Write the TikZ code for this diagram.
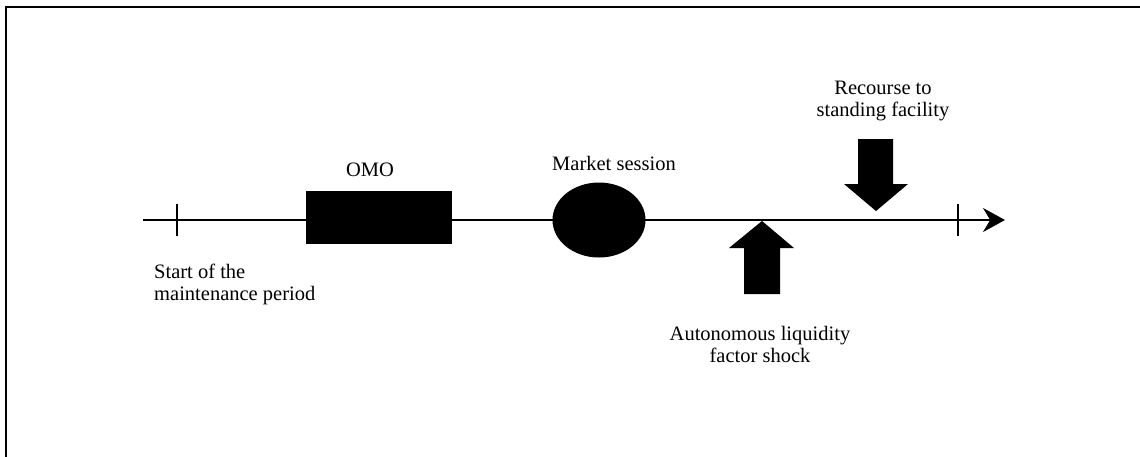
\documentclass[tikz,border=0pt]{standalone}
\usepackage{fontspec}
\setmainfont{Liberation Serif}
\usetikzlibrary{arrows.meta}

\tikzset{
  lbl/.style={inner sep=0pt, font=\fontsize{20.5}{22}\selectfont},
  tickmark/.style={line width=2pt},
}

\begin{document}
\begin{tikzpicture}[x=1pt, y=-1pt]
  \useasboundingbox (0,0) rectangle (1140,456);
  \clip (0,0) rectangle (1140,456);
  \draw[line width=1.5pt] (6,7) rectangle (1170,490);
  % time axis
  \coordinate (t0) at (143,220);
  \coordinate (t1) at (1005,220);
  \draw[line width=2pt, -{Stealth[length=22pt, width=24pt]}] (t0) -- (t1);
  \draw[tickmark] (177,204) -- (177,236);
  \draw[tickmark] (958,204) -- (958,236);
  % events
  \fill (306,191) rectangle (452,244);
  \fill (599,220) ellipse [x radius=46.5, y radius=37.5];
  \fill (762,221) -- (794,248) -- (780,248) -- (780,294) -- (744,294)
        -- (744,248) -- (729,248) -- cycle;
  \fill (876,211) -- (908,184) -- (893,184) -- (893,139) -- (858,139)
        -- (858,184) -- (844,184) -- cycle;
  % labels (base = last line)
  \node[lbl, anchor=base west, align=left] (start) at (154,300)
    {Start of the\\maintenance period};
  \node[lbl, anchor=base] (omo) at (370,176) {OMO};
  \node[lbl, anchor=base] (mkt) at (614,170) {Market session};
  \node[lbl, anchor=base, align=center] (shock) at (760,362)
    {Autonomous liquidity\\factor shock};
  \node[lbl, anchor=base, align=center] (sf) at (883,116)
    {Recourse to\\standing facility};
\end{tikzpicture}
\end{document}
